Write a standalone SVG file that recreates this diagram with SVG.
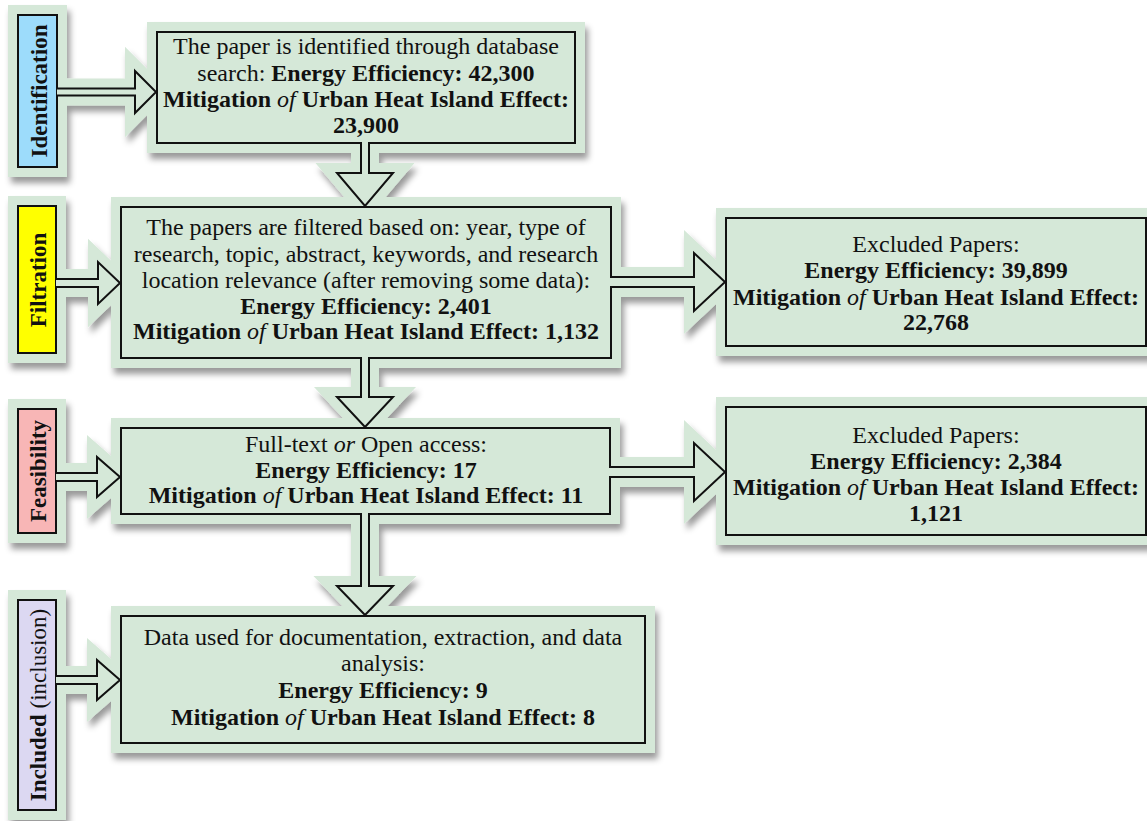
<svg xmlns="http://www.w3.org/2000/svg" width="1147" height="821" viewBox="0 0 1147 821">
<defs>
<filter id="sh" x="-10%" y="-10%" width="120%" height="130%">
<feDropShadow dx="3" dy="6" stdDeviation="3" flood-color="#000" flood-opacity="0.4"/>
</filter>
<style>
.halo rect,.halo path{fill:#d5e8d8;stroke:#d5e8d8;stroke-width:20;stroke-linejoin:miter;stroke-miterlimit:10}
.box{fill:#d5e8d8;stroke:#111;stroke-width:2}
.arr{fill:#d5e8d8;stroke:#111;stroke-width:2;stroke-linejoin:miter}
text{font-family:"Liberation Serif","Times New Roman",serif;font-size:24px;fill:#111;text-anchor:middle}
.b{font-weight:bold}
.i{font-style:italic;font-weight:normal}
.lbl{font-size:23px}
</style>
</defs>
<rect width="1147" height="821" fill="#fff"/>
<g class="halo" filter="url(#sh)">
<rect x="18" y="15" width="39" height="152"/>
<rect x="18" y="206" width="38" height="147"/>
<rect x="18" y="409" width="38" height="124"/>
<rect x="18" y="600" width="38" height="210"/>
<rect x="157" y="32" width="418" height="111"/>
<rect x="121" y="207" width="490" height="151"/>
<rect x="121" y="428" width="489" height="86"/>
<rect x="121" y="616" width="524" height="127"/>
<rect x="726" y="218" width="420" height="128"/>
<rect x="726" y="407" width="420" height="128"/>
<path d="M57,88.5 L135,88.5 L135,71 L156,92 L135,113 L135,95.5 L57,95.5Z"/>
<path d="M56,279 L98,279 L98,262 L120,283 L98,304 L98,287 L56,287Z"/>
<path d="M56,473 L97,473 L97,457 L120,477 L97,497 L97,481 L56,481Z"/>
<path d="M56,676 L97,676 L97,660 L120,680 L97,700 L97,684 L56,684Z"/>
<path d="M610,277 L694,277 L694,253 L725,282 L694,311 L694,287 L610,287Z"/>
<path d="M609,467 L694,467 L694,443 L725,472 L694,501 L694,477 L609,477Z"/>
<path d="M361,142 V173 H337 L365,206 L393,173 H369 V142Z"/>
<path d="M361,357 V397 H337 L365,427 L393,397 H369 V357Z"/>
<path d="M361,513 V586 H337 L365,615 L393,586 H369 V513Z"/>
</g>

<g id="label-identification">
<rect x="18" y="15" width="39" height="152" fill="#9ddcfb" stroke="#111" stroke-width="2"/>
<text class="b lbl" transform="translate(47,91) rotate(-90)">Identification</text>
</g>
<g id="label-filtration">
<rect x="18" y="206" width="38" height="147" fill="#ffff00" stroke="#111" stroke-width="2"/>
<text class="b lbl" transform="translate(46,280) rotate(-90)">Filtration</text>
</g>
<g id="label-feasibility">
<rect x="18" y="409" width="38" height="124" fill="#f8b6b6" stroke="#111" stroke-width="2"/>
<text class="b lbl" transform="translate(46,471) rotate(-90)">Feasibility</text>
</g>
<g id="label-included">
<rect x="18" y="600" width="38" height="210" fill="#dcd8f2" stroke="#111" stroke-width="2"/>
<text class="lbl" transform="translate(46,705) rotate(-90)"><tspan class="b">Included</tspan> (inclusion)</text>
</g>

<g id="box-identified">
<rect class="box" x="157" y="32" width="418" height="111"/>
<text x="366" y="54">The paper is identified through database</text>
<text x="366" y="81">search: <tspan class="b">Energy Efficiency: 42,300</tspan></text>
<text x="366" y="107" class="b">Mitigation <tspan class="i">of</tspan> Urban Heat Island Effect:</text>
<text x="366" y="133" class="b">23,900</text>
</g>
<g id="box-filtered">
<rect class="box" x="121" y="207" width="490" height="151"/>
<text x="366" y="235">The papers are filtered based on: year, type of</text>
<text x="366" y="262">research, topic, abstract, keywords, and research</text>
<text x="366" y="288">location relevance (after removing some data):</text>
<text x="366" y="314" class="b">Energy Efficiency: 2,401</text>
<text x="366" y="339" class="b">Mitigation <tspan class="i">of</tspan> Urban Heat Island Effect: 1,132</text>
</g>
<g id="box-feasible">
<rect class="box" x="121" y="428" width="489" height="86"/>
<text x="366" y="452">Full-text <tspan class="i">or</tspan> Open access:</text>
<text x="366" y="478" class="b">Energy Efficiency: 17</text>
<text x="366" y="503" class="b">Mitigation <tspan class="i">of</tspan> Urban Heat Island Effect: 11</text>
</g>
<g id="box-included">
<rect class="box" x="121" y="616" width="524" height="127"/>
<text x="383" y="645">Data used for documentation, extraction, and data</text>
<text x="383" y="671">analysis:</text>
<text x="383" y="698" class="b">Energy Efficiency: 9</text>
<text x="383" y="725" class="b">Mitigation <tspan class="i">of</tspan> Urban Heat Island Effect: 8</text>
</g>
<g id="box-excluded-1">
<rect class="box" x="726" y="218" width="420" height="128"/>
<text x="936" y="252">Excluded Papers:</text>
<text x="936" y="278" class="b">Energy Efficiency: 39,899</text>
<text x="936" y="305" class="b">Mitigation <tspan class="i">of</tspan> Urban Heat Island Effect:</text>
<text x="936" y="330" class="b">22,768</text>
</g>
<g id="box-excluded-2">
<rect class="box" x="726" y="407" width="420" height="128"/>
<text x="936" y="443">Excluded Papers:</text>
<text x="936" y="469" class="b">Energy Efficiency: 2,384</text>
<text x="936" y="495" class="b">Mitigation <tspan class="i">of</tspan> Urban Heat Island Effect:</text>
<text x="936" y="521" class="b">1,121</text>
</g>

<g id="connectors">
<path class="arr" d="M57,88.5 L135,88.5 L135,71 L156,92 L135,113 L135,95.5 L57,95.5"/>
<path class="arr" d="M56,279 L98,279 L98,262 L120,283 L98,304 L98,287 L56,287"/>
<path class="arr" d="M56,473 L97,473 L97,457 L120,477 L97,497 L97,481 L56,481"/>
<path class="arr" d="M56,676 L97,676 L97,660 L120,680 L97,700 L97,684 L56,684"/>
<path class="arr" d="M610,277 L694,277 L694,253 L725,282 L694,311 L694,287 L610,287"/>
<path class="arr" d="M609,467 L694,467 L694,443 L725,472 L694,501 L694,477 L609,477"/>
<path class="arr" d="M361,142 V173 H337 L365,206 L393,173 H369 V142"/>
<path class="arr" d="M361,357 V397 H337 L365,427 L393,397 H369 V357"/>
<path class="arr" d="M361,513 V586 H337 L365,615 L393,586 H369 V513"/>
</g>
</svg>
